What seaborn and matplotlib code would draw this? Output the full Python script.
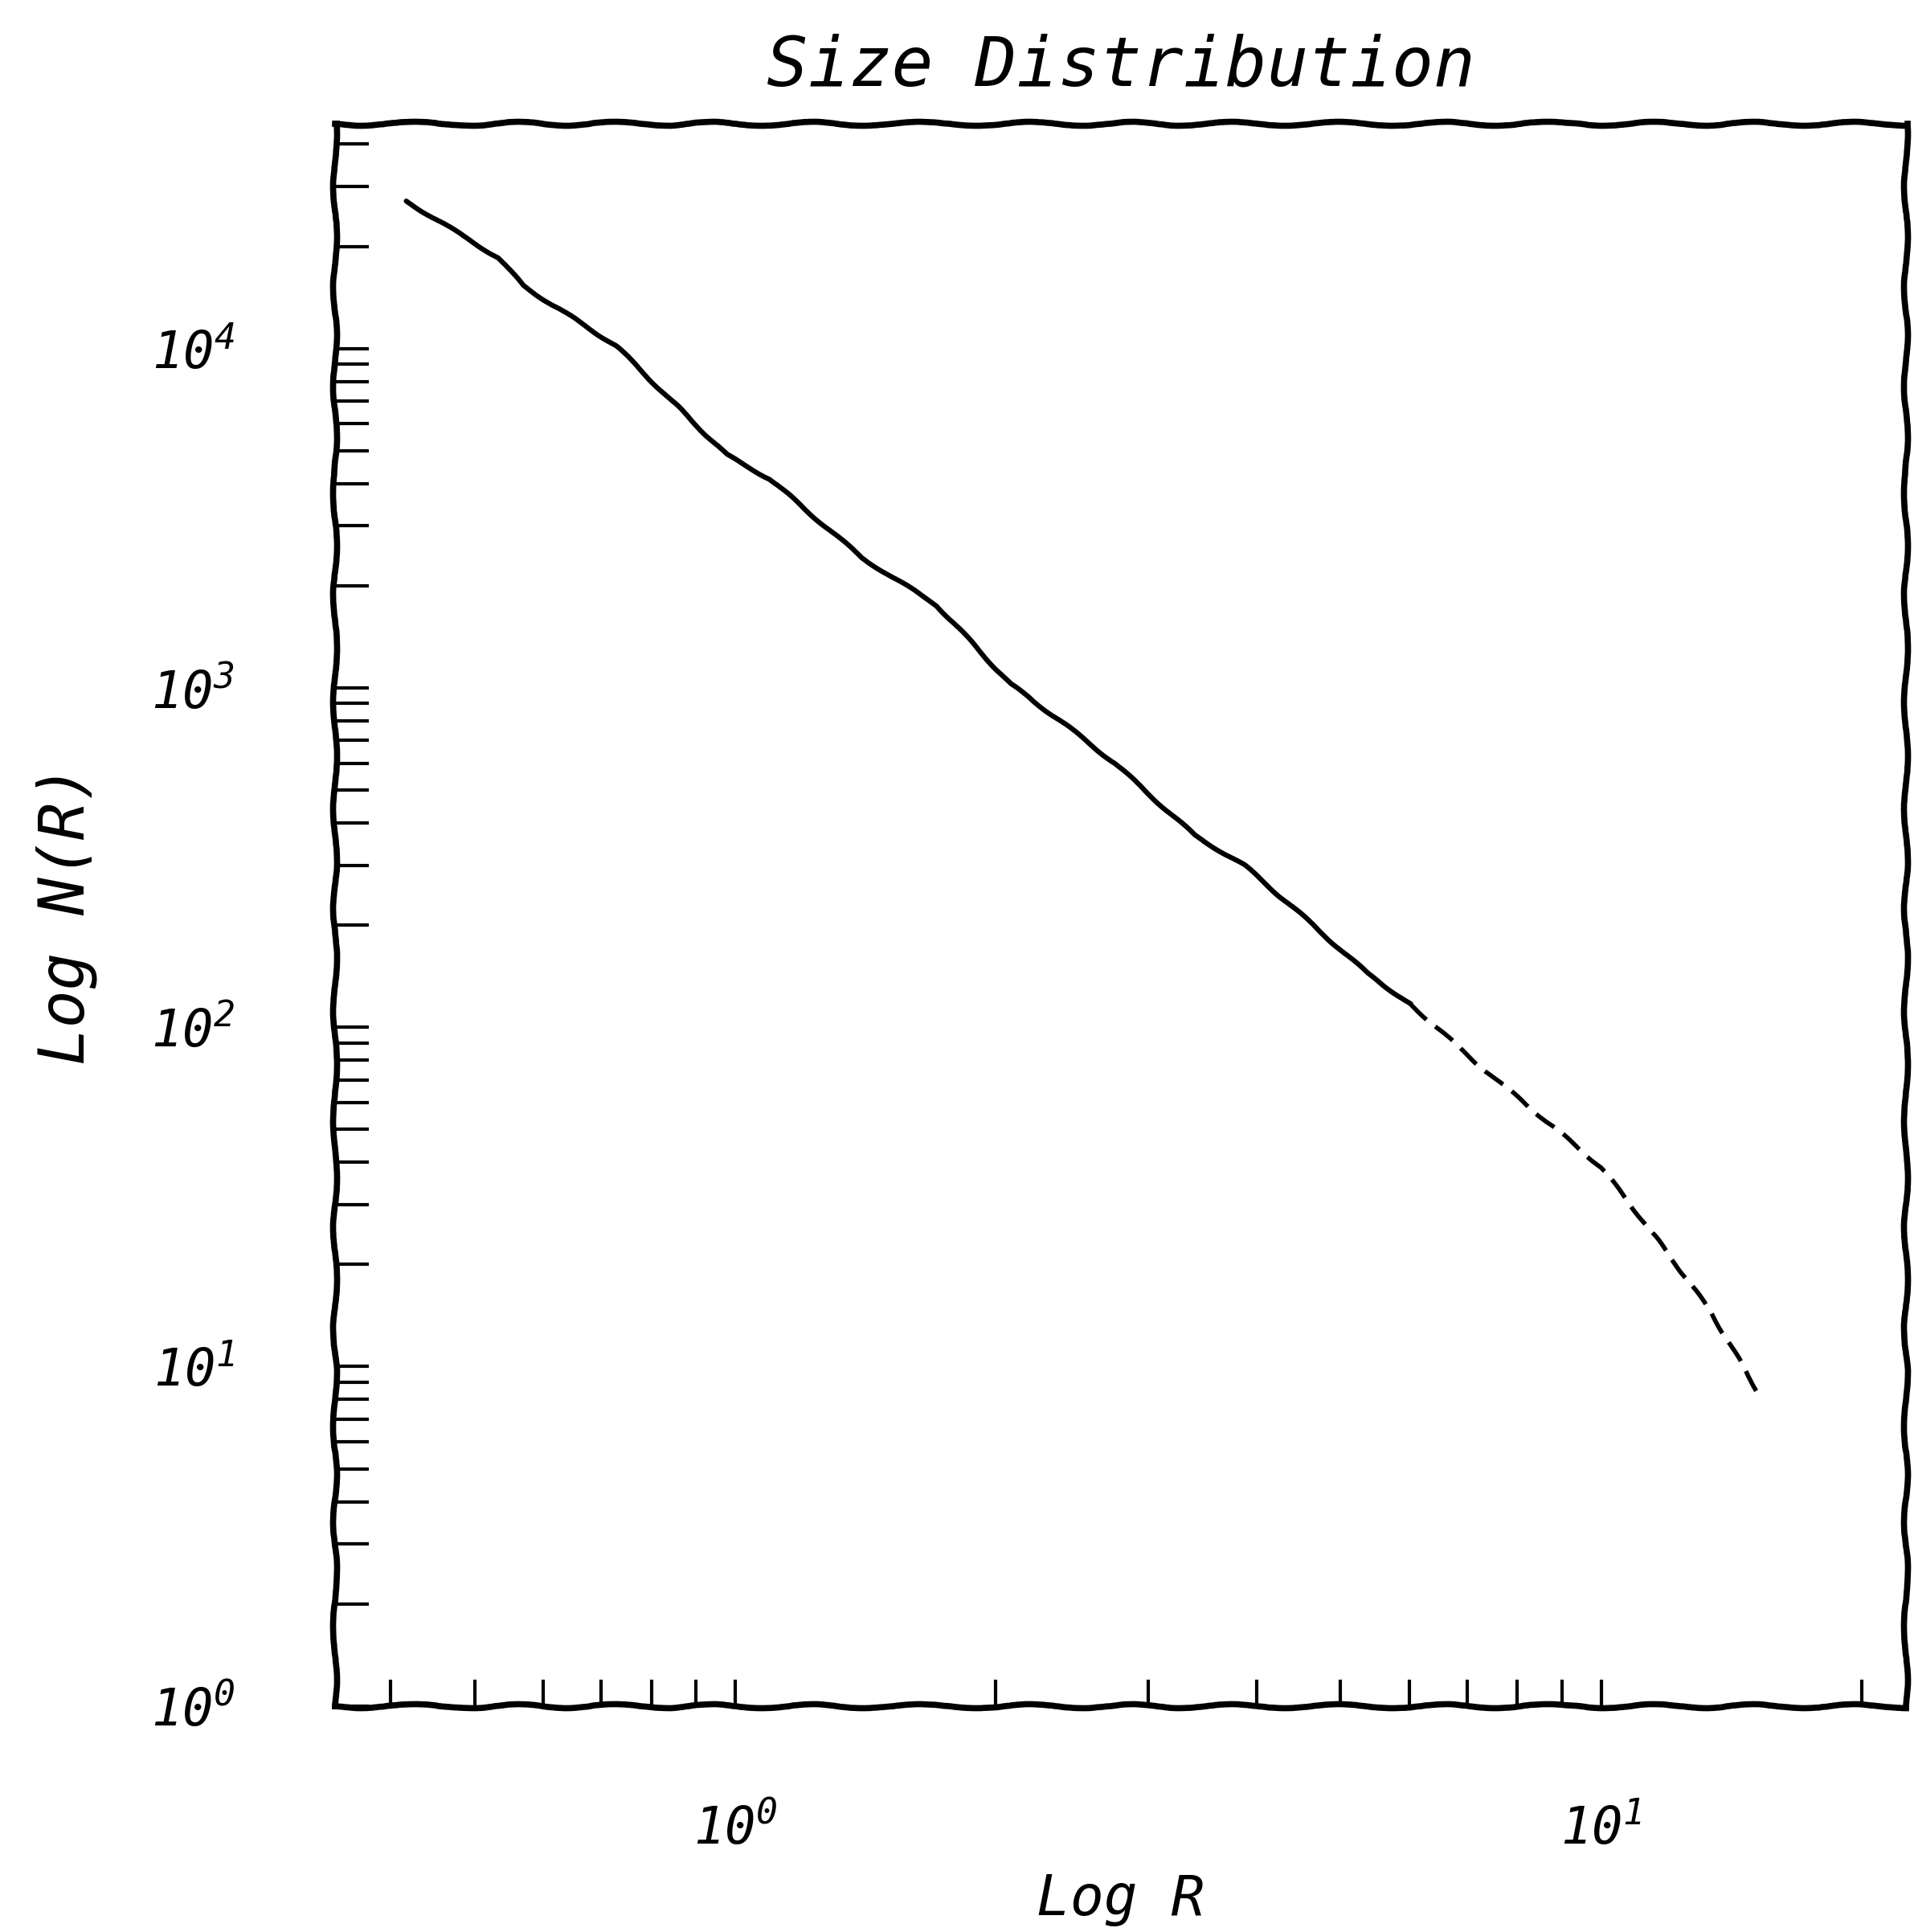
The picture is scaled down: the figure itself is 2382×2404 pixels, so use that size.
import matplotlib
matplotlib.use("Agg")
import matplotlib.pyplot as plt
import seaborn as sns
import pandas as pd

# values
r_main = [0.417, 0.533, 0.569, 0.728, 0.977, 1.096, 1.40, 1.71, 2.08, 2.37,
          2.74, 3.39, 3.87, 4.41, 5.37, 6.02]
n_main = [27200, 18500, 15300, 10200, 4860, 4130, 2420, 1750, 1025, 802,
          601, 368, 300, 225, 144, 117]
r_tail = [6.02, 7.21, 8.92, 10.0, 11.2, 12.2, 13.4, 15.3]
n_tail = [117, 77.6, 49.4, 38.6, 26.7, 20.0, 14.4, 8.1]

sns.set_style("ticks", {"axes.edgecolor": "black", "text.color": "black",
                        "xtick.color": "black", "ytick.color": "black",
                        "axes.labelcolor": "black"})
plt.rcParams["font.family"] = ["DejaVu Sans Mono", "DejaVu Sans"]
plt.rcParams["font.style"] = "italic"

fig = plt.figure(figsize=(23.82, 24.04), dpi=100)
ax = fig.add_axes([0.175, 0.117, 0.821, 0.819])

main = pd.DataFrame({"R": r_main, "N": n_main})
tail = pd.DataFrame({"R": r_tail, "N": n_tail})
sns.lineplot(data=main, x="R", y="N", color="black", linewidth=4.5, ax=ax,
             sort=False)
sns.lineplot(data=tail, x="R", y="N", color="black", linewidth=4.0, ax=ax,
             sort=False, linestyle=(0, (5, 2.5)))

ax.set_xscale("log")
ax.set_yscale("log")
ax.set_xlim(0.345, 22.5)
ax.set_ylim(1, 46000)

# hand-drawn look for the frame
for sp in ax.spines.values():
    sp.set_linewidth(5.5)
    sp.set_sketch_params(2.5, 160, 3)
for line in ax.lines:
    line.set_sketch_params(1.2, 100, 2)

ax.tick_params(axis="y", which="both", direction="in", length=30, width=3,
               labelsize=46, pad=90, color="black")
ax.tick_params(axis="x", which="both", direction="in", length=24, width=3,
               labelsize=46, pad=88, color="black")
ax.tick_params(which="minor", labelleft=False, labelbottom=False)

ax.set_title("Size Distribution", fontsize=62, pad=34)
ax.set_xlabel("Log R", fontsize=50, labelpad=16)
ax.set_ylabel("Log N(R)", fontsize=56, labelpad=48)

plt.savefig("out.png", dpi=100)
